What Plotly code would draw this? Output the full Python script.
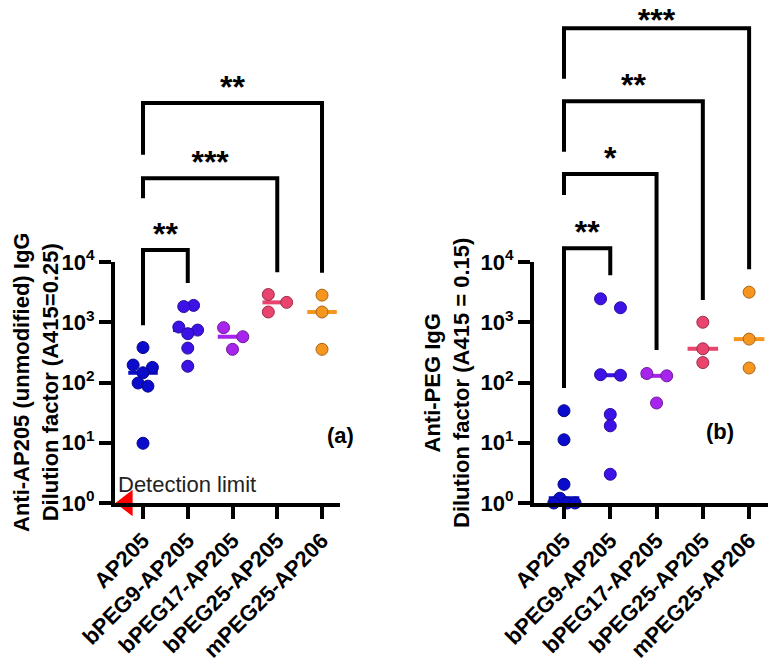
import numpy as np
import plotly.graph_objects as go

# ---------------- data ----------------
categories = ["AP205", "bPEG9-AP205", "bPEG17-AP205", "bPEG25-AP205", "mPEG25-AP206"]
colors = ["#0b0bcc", "#3d12e6", "#a624ec", "#e8446e", "#f7961f"]
edge_colors = ["#08088a", "#2a0c9c", "#6e1a9c", "#9c2c4a", "#a8661a"]

# Panel (a): anti-AP205 IgG dilution factor
a_values = [
    [380, 195, 178, 145, 98, 87, 9.8],
    [1905, 1820, 832, 741, 646, 372, 186],
    [813, 575, 355],
    [2884, 2138, 1479],
    [2818, 1479, 355],
]
a_jitter = [
    [0, -0.22, 0.21, 0, -0.11, 0.11, 0],
    [0.13, -0.09, -0.20, 0.22, 0, 0, 0],
    [-0.20, 0.23, 0],
    [-0.20, 0.21, -0.20],
    [0, 0, 0],
]
# Panel (b): anti-PEG IgG dilution factor
b_values = [
    [34, 11.2, 2.04, 1.2, 1.0, 1.0, 1.0],
    [2450, 1740, 135, 132, 29.5, 19.1, 3.0],
    [141, 129, 45.7],
    [1000, 363, 214],
    [3160, 525, 174],
]
b_jitter = [
    [0, 0, 0, -0.09, -0.22, 0.07, 0.24],
    [-0.21, 0.22, -0.21, 0.22, 0, 0, 0],
    [-0.21, 0.22, 0],
    [0, 0, 0],
    [0, 0, 0],
]

# significance brackets: (group i, group j, label, bracket level, left leg end, right leg end)
a_brackets = [
    (0, 1, "**", 10**4.20, 10**2.95, 10**3.65),
    (0, 3, "***", 10**5.39, 10**5.06, 10**3.83),
    (0, 4, "**", 10**6.64, 10**5.78, 10**3.82),
]
b_brackets = [
    (0, 1, "**", 10**4.23, 10**1.91, 10**3.78),
    (0, 2, "*", 10**5.46, 10**5.11, 10**2.54),
    (0, 3, "**", 10**6.67, 10**5.83, 10**3.37),
    (0, 4, "***", 10**7.88, 10**7.04, 10**3.88),
]
detection_limit = 1.0

y_tickvals = [1, 10, 100, 1000, 10000]
y_ticktext = ["10<sup>%d</sup>" % k for k in range(5)]

FONT = "Liberation Sans, Arial, sans-serif"

# page has an 8px body margin; size the figure so it fits the window
OFF = 8
W, H = 776 - OFF, 662 - OFF
STAR_CAP = 10**7.97   # keep the top-most stars inside the figure


def px(sx):
    return (sx - OFF) / W


def py(sy):
    return (H - (sy - OFF)) / H


fig = go.Figure()


def add_panel(values, jitter, brackets, xa, ya, xb, yb):
    for gi, (vals, jit) in enumerate(zip(values, jitter)):
        med = float(np.median(vals))
        fig.add_trace(go.Scatter(
            x=[gi - 0.33, gi + 0.33], y=[med, med], mode="lines",
            line=dict(color=colors[gi], width=4), showlegend=False,
            hoverinfo="skip", xaxis=xa, yaxis=ya))
        fig.add_trace(go.Scatter(
            x=[gi + j for j in jit], y=vals, mode="markers",
            marker=dict(size=12, color=colors[gi],
                        line=dict(color=edge_colors[gi], width=1)),
            cliponaxis=False, showlegend=False, name=categories[gi],
            xaxis=xa, yaxis=ya))
    for (i, j, lab, lvl, lo_i, lo_j) in brackets:
        fig.add_trace(go.Scatter(
            x=[i, i, j, j], y=[lo_i, lvl, lvl, lo_j], mode="lines",
            line=dict(color="black", width=4), showlegend=False,
            hoverinfo="skip", xaxis=xb, yaxis=yb))
        fig.add_trace(go.Scatter(
            x=[(i + j) / 2], y=[min(lvl * 10**0.22, STAR_CAP)], mode="text",
            text=[lab],
            textfont=dict(family=FONT, size=32, color="black", weight="bold"),
            textposition="middle center", cliponaxis=False,
            showlegend=False, hoverinfo="skip", xaxis=xb, yaxis=yb))


add_panel(a_values, a_jitter, a_brackets, "x", "y", "x3", "y3")
add_panel(b_values, b_jitter, b_brackets, "x2", "y2", "x4", "y4")

# detection-limit marker (panel a)
fig.add_trace(go.Scatter(
    x=[-0.36], y=[detection_limit], mode="markers",
    marker=dict(symbol="triangle-left", size=23, color="#ff0000"),
    cliponaxis=False, showlegend=False, xaxis="x", yaxis="y"))

y0 = py(503)
y4 = py(262)
ax_domains = {"a": [px(115), px(340)], "b": [px(534), 1.0]}
ax_ranges = {"a": [-0.626, 4.402], "b": [-0.648, (768 - 563) / 44.75]}

xcommon = dict(showline=True, linewidth=4, linecolor="black", ticks="outside",
               ticklen=12, tickwidth=4, tickcolor="black", tickangle=-45,
               tickvals=list(range(5)), ticktext=categories,
               tickfont=dict(family=FONT, size=22, color="black", weight="bold"),
               showgrid=False, zeroline=False, automargin=False)
ycommon = dict(type="log", range=[0, 4], domain=[y0, y4], showline=True,
               linewidth=4, linecolor="black", ticks="outside", ticklen=12,
               tickwidth=4, tickcolor="black", tickvals=y_tickvals,
               ticktext=y_ticktext,
               tickfont=dict(family=FONT, size=22, color="black", weight="bold"),
               showgrid=False, zeroline=False, automargin=False)
hidden_y = dict(type="log", range=[0, (503 - OFF) / 60.25], domain=[y0, 1.0],
                visible=False, showgrid=False, zeroline=False, automargin=False)
hidden_x = dict(visible=False, showgrid=False, zeroline=False, automargin=False)

fig.update_layout(
    template="none",
    width=W, height=H, margin=dict(l=0, r=0, t=0, b=0, pad=0, autoexpand=False),
    paper_bgcolor="white", plot_bgcolor="rgba(0,0,0,0)",
    font=dict(family=FONT, color="black"),
    xaxis=dict(domain=ax_domains["a"], range=ax_ranges["a"], anchor="y", **xcommon),
    yaxis=dict(anchor="x", **ycommon),
    xaxis2=dict(domain=ax_domains["b"], range=ax_ranges["b"], anchor="y2", **xcommon),
    yaxis2=dict(anchor="x2", **ycommon),
    xaxis3=dict(domain=ax_domains["a"], range=ax_ranges["a"], anchor="y3", **hidden_x),
    yaxis3=dict(anchor="x3", **hidden_y),
    xaxis4=dict(domain=ax_domains["b"], range=ax_ranges["b"], anchor="y4", **hidden_x),
    yaxis4=dict(anchor="x4", **hidden_y),
)

ann_font = dict(family=FONT, size=22, color="black", weight="bold")
fig.add_annotation(text="Anti-AP205 (unmodified) IgG<br>Dilution factor (A415=0.25)",
                   xref="paper", yref="paper", x=px(36), y=py(383),
                   textangle=-90, showarrow=False, font=ann_font,
                   xanchor="center", yanchor="middle")
fig.add_annotation(text="Anti-PEG IgG<br>Dilution factor (A415 = 0.15)",
                   xref="paper", yref="paper", x=px(447), y=py(383),
                   textangle=-90, showarrow=False, font=ann_font,
                   xanchor="center", yanchor="middle")
fig.add_annotation(text="(a)", xref="paper", yref="paper", x=px(340), y=py(450),
                   showarrow=False, font=ann_font)
fig.add_annotation(text="(b)", xref="paper", yref="paper", x=px(736), y=py(446),
                   showarrow=False, font=ann_font)
fig.add_annotation(text="Detection limit", xref="paper", yref="paper",
                   x=px(116), y=py(484), xanchor="left", yanchor="middle",
                   showarrow=False, font=dict(family=FONT, size=22, color="#222222"))

fig.write_html("out.html")
